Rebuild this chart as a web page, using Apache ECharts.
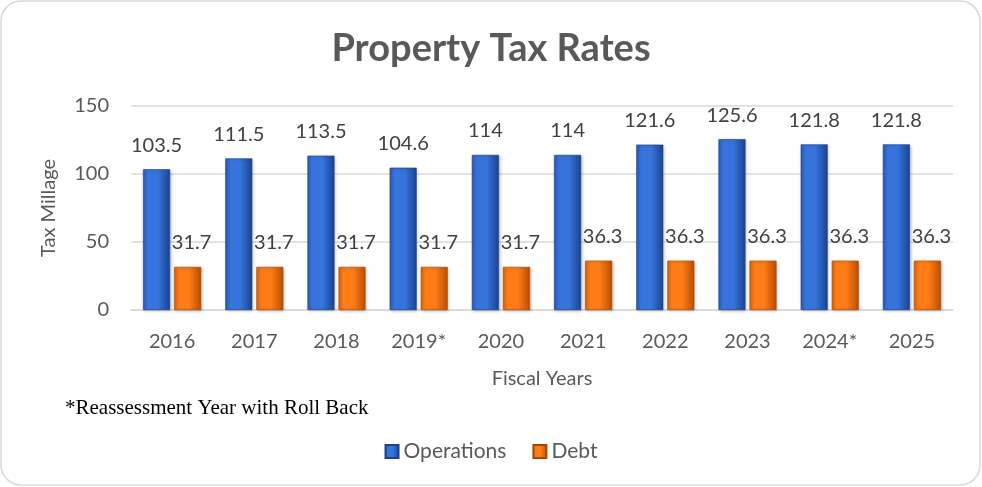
<!DOCTYPE html>
<html>
<head>
<meta charset="utf-8">
<script src="https://cdn.jsdelivr.net/npm/echarts@6/dist/echarts.min.js"></script>
<style>
  html, body { margin: 0; padding: 0; background: #ffffff; }
  #chart { width: 982px; height: 487px; }
</style>
</head>
<body>
<div id="chart"></div>
<script>
// Fiscal years on the category axis
const years = ['2016', '2017', '2018', '2019*', '2020', '2021', '2022', '2023', '2024*', '2025'];
// Millage for operations
const operations = [103.5, 111.5, 113.5, 104.6, 114, 114, 121.6, 125.6, 121.8, 121.8];
// Millage for debt service
const debt = [31.7, 31.7, 31.7, 31.7, 31.7, 36.3, 36.3, 36.3, 36.3, 36.3];
// Value-axis ticks
const yTicks = [0, 50, 100, 150];

const FONT = 'Lato, "Open Sans", sans-serif';
const TEXT = '#595959';

// Beveled look: darker edges, brighter middle
function bevel(edge, mid, edge2) {
  return new echarts.graphic.LinearGradient(0, 0, 1, 0, [
    { offset: 0, color: edge },
    { offset: 0.18, color: mid },
    { offset: 0.55, color: mid },
    { offset: 1, color: edge2 }
  ]);
}
const blueFill = bevel('#2a5cb8', '#3674dc', '#1c4390');
const orangeFill = bevel('#e06408', '#ff7c16', '#b84f00');

const chart = echarts.init(document.getElementById('chart'), null, { renderer: 'canvas' });

chart.setOption({
  animation: false,
  backgroundColor: '#ffffff',
  textStyle: { fontFamily: FONT },
  title: {
    text: 'Property Tax Rates',
    left: 'center',
    top: 25,
    textStyle: { fontFamily: FONT, fontSize: 38, fontWeight: 'bold', color: TEXT }
  },
  grid: { left: 131, right: 29, top: 106, bottom: 177, containLabel: false },
  legend: {
    data: ['Operations', 'Debt'],
    left: 'center',
    top: 436,
    itemWidth: 13,
    itemHeight: 13,
    itemGap: 26,
    textStyle: { fontFamily: FONT, fontSize: 21, color: TEXT },
    icon: 'rect'
  },
  xAxis: {
    type: 'category',
    data: years,
    name: 'Fiscal Years',
    nameLocation: 'middle',
    nameGap: 59,
    nameTextStyle: { fontFamily: FONT, fontSize: 20, color: TEXT },
    axisLine: { show: true, lineStyle: { color: '#d9d9d9', width: 1.5 } },
    axisTick: { show: false },
    axisLabel: { fontFamily: FONT, fontSize: 20, color: TEXT, margin: 22 }
  },
  yAxis: {
    type: 'value',
    min: yTicks[0],
    max: yTicks[yTicks.length - 1],
    interval: yTicks[1] - yTicks[0],
    name: 'Tax Millage',
    nameLocation: 'middle',
    nameGap: 72,
    nameTextStyle: { fontFamily: FONT, fontSize: 20, color: TEXT },
    axisLine: { show: false },
    axisTick: { show: false },
    axisLabel: { fontFamily: FONT, fontSize: 20, color: TEXT, margin: 22 },
    splitLine: { lineStyle: { color: '#d9d9d9', width: 1.5 } }
  },
  series: [
    {
      name: 'Operations',
      type: 'bar',
      data: operations,
      barWidth: 27,
      barGap: '15%',
      z: 3,
      itemStyle: {
        color: blueFill,
        borderColor: '#1c3f86',
        borderWidth: 0.6,
        shadowColor: 'rgba(0,0,0,0.25)',
        shadowBlur: 3,
        shadowOffsetX: 1,
        shadowOffsetY: 1
      },
      label: {
        show: true,
        position: 'top',
        distance: 14,
        fontFamily: FONT,
        fontSize: 20,
        color: '#404040'
      }
    },
    {
      name: 'Debt',
      type: 'bar',
      data: debt,
      barWidth: 27,
      z: 2,
      itemStyle: {
        color: orangeFill,
        borderColor: '#a84800',
        borderWidth: 0.6,
        shadowColor: 'rgba(0,0,0,0.25)',
        shadowBlur: 3,
        shadowOffsetX: 1,
        shadowOffsetY: 1
      },
      label: {
        show: true,
        position: 'top',
        distance: 14,
        offset: [4, 0],
        fontFamily: FONT,
        fontSize: 20,
        color: '#404040'
      }
    }
  ],
  graphic: [
    {
      type: 'rect',
      shape: { x: 1, y: 1, width: 979, height: 484, r: 20 },
      style: { fill: 'none', stroke: '#d9d9d9', lineWidth: 1.5 },
      silent: true,
      z: -1
    },
    {
      type: 'text',
      x: 65,
      y: 408,
      style: {
        text: '*Reassessment Year with Roll Back',
        fontFamily: '"Liberation Serif", "DejaVu Serif", serif',
        fontSize: 21,
        fill: '#000000',
        verticalAlign: 'middle'
      }
    }
  ]
});
</script>
</body>
</html>
